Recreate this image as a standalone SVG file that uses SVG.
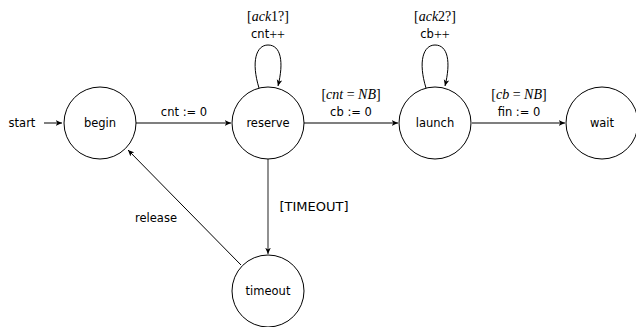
<svg xmlns="http://www.w3.org/2000/svg" width="636" height="327" viewBox="0 0 636 327">
<defs>
<marker id="ah" viewBox="0 0 10 10" refX="9" refY="5" markerWidth="7" markerHeight="7" orient="auto" markerUnits="userSpaceOnUse">
<path d="M0,1 L9,5 L0,9 L2.5,5 Z" fill="#000"/>
</marker>
<style>
.st{fill:#fff;stroke:#000;stroke-width:1}
.t{font-family:"DejaVu Sans","Liberation Sans",sans-serif;font-size:11.5px;text-anchor:middle;dominant-baseline:central;fill:#000}
.m{font-family:"Liberation Serif",serif;font-style:italic;font-size:14px}
.r{font-family:"Liberation Serif",serif;font-style:normal;font-size:14px}
.e{fill:none;stroke:#000;stroke-width:1;marker-end:url(#ah)}
.g{stroke:#555;stroke-width:1.3}
</style>
</defs>
<g id="connectors">
<text class="t" x="22" y="123">start</text>
<path class="e" d="M44,123 L62,123"/>
<path class="e g" d="M136,123 L231,123"/>
<text class="t" x="184" y="112">cnt := 0</text>
<path class="e" d="M259,88 C251,62 256,45 268,45 C281,45 284,62 278,86"/>
<text class="t" x="268" y="16"><tspan class="r">[</tspan><tspan class="m">ack</tspan><tspan class="r">1?]</tspan></text>
<text class="t" x="268" y="34">cnt<tspan class="r">++</tspan></text>
<path class="e g" d="M304,123 L398,123"/>
<text class="t" x="351" y="94"><tspan class="r">[</tspan><tspan class="m">cnt</tspan><tspan class="r"> = </tspan><tspan class="m">NB</tspan><tspan class="r">]</tspan></text>
<text class="t" x="351" y="112">cb := 0</text>
<path class="e" d="M426,88 C418,62 423,45 435,45 C448,45 451,62 445,86"/>
<text class="t" x="435" y="16"><tspan class="r">[</tspan><tspan class="m">ack</tspan><tspan class="r">2?]</tspan></text>
<text class="t" x="435" y="34">cb<tspan class="r">++</tspan></text>
<path class="e g" d="M472,123 L565,123"/>
<text class="t" x="519" y="94"><tspan class="r">[</tspan><tspan class="m">cb</tspan><tspan class="r"> = </tspan><tspan class="m">NB</tspan><tspan class="r">]</tspan></text>
<text class="t" x="519" y="112">fin := 0</text>
<path class="e g" d="M268,159 L268,254"/>
<text class="t" x="314" y="206" style="font-size:13px">[TIMEOUT]</text>
<path class="e" d="M241,265 L128,150"/>
<text class="t" x="156" y="218">release</text>
</g>
<g id="begin"><circle class="st" cx="100" cy="123" r="36"/><text class="t" x="100" y="123">begin</text></g>
<g id="reserve"><circle class="st" cx="268" cy="123" r="36"/><text class="t" x="268" y="123">reserve</text></g>
<g id="launch"><circle class="st" cx="435" cy="123" r="36"/><text class="t" x="435" y="123">launch</text></g>
<g id="wait"><circle class="st" cx="602" cy="123" r="36"/><text class="t" x="602" y="123">wait</text></g>
<g id="timeout"><circle class="st" cx="268" cy="291" r="36"/><text class="t" x="268" y="291">timeout</text></g>
</svg>
